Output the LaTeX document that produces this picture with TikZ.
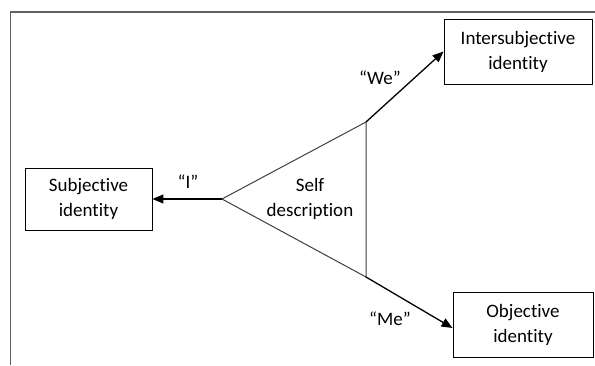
\documentclass[tikz,border=0pt]{standalone}
\usepackage{fontspec}
\setmainfont[Ligatures=NoCommon]{Carlito}
\usetikzlibrary{arrows.meta}
\begin{document}
\begin{tikzpicture}[x=1pt,y=-1pt,
  box/.style={draw=black,line width=0.9pt,fill=white,align=center,inner sep=0pt,
    font=\fontsize{19}{25}\selectfont},
  lbl/.style={font=\fontsize{19}{25}\selectfont,inner sep=0pt},
  edge/.style={draw=black!75,line width=1pt},
  link/.style={draw=black,line width=1.3pt,-{Triangle[length=11pt,width=9pt]}},
  frameline/.style={draw=black!62,line width=1.6pt}]
\useasboundingbox (0,0) rectangle (595,365);

% outer frame (left and top sides)
\draw[frameline] (10.5,365) -- (10.5,12) -- (595,12);

% triangle corners
\coordinate (apex) at (222,199);
\coordinate (top) at (366,122);
\coordinate (bot) at (366,277);

% identity boxes
\node[box,minimum width=127pt,minimum height=62pt] (sub) at (88.5,199) {Subjective\\identity};
\node[box,minimum width=148pt,minimum height=65pt] (inter) at (518,51.5) {Intersubjective\\identity};
\node[box,minimum width=140pt,minimum height=65pt] (obj) at (523,324.5) {Objective\\identity};

% self description triangle
\draw[edge] (apex) -- (top) -- (bot) -- cycle;
\node[lbl,align=center] (self) at (310,198.5) {Self\\description};

% connectors
\draw[link] (apex) -- (sub.east);
\draw[link] (top) -- (inter.west);
\draw[link] (bot) -- ([yshift=-3.5pt]obj.west);

% connector labels
\node[lbl] (li) at (188,182) {“I”};
\node[lbl] (lwe) at (380,78) {“We”};
\node[lbl] (lme) at (390,319) {“Me”};
\end{tikzpicture}
\end{document}
